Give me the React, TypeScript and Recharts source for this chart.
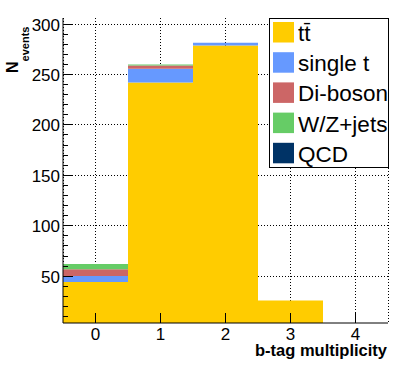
import React from 'react';
import { BarChart, Bar, XAxis, YAxis, CartesianGrid } from 'recharts';

// b-tag multiplicity bins
const categories = ['0', '1', '2', '3', '4'];

// stacked contributions, bottom to top
const ttbar = [44.3, 242, 278.7, 26, 0];
const singleTop = [6, 13.7, 2.7, 0, 0];
const diboson = [6.7, 3.3, 0, 0, 0];
const wzJets = [5, 1, 0, 0, 0];
const qcd = [0, 0, 0, 0, 0];

const seriesKeys = ['ttbar', 'singleTop', 'diboson', 'wzJets', 'qcd'];
const seriesNames = ['t\u0074\u0304', 'single t', 'Di-boson', 'W/Z+jets', 'QCD'];
const seriesColors = ['#ffcc00', '#6699ff', '#cc6666', '#66cc66', '#003366'];

const yMajorTicks = [50, 100, 150, 200, 250, 300];
const yMinorTicks = [10, 20, 30, 40, 50, 60, 70, 80, 90, 100, 110, 120, 130, 140, 150, 160, 170, 180, 190, 200, 210, 220, 230, 240, 250, 260, 270, 280, 290, 300];
const yDomain = [3.6, 306];

const data = categories.map((bin, i) => ({
  bin,
  ttbar: ttbar[i],
  singleTop: singleTop[i],
  diboson: diboson[i],
  wzJets: wzJets[i],
  qcd: qcd[i],
}));

const FONT = '"Liberation Sans", Arial, Helvetica, sans-serif';
const W = 396;
const H = 372;

const LeftTick = ({ x, y, payload }: any) => {
  const major = yMajorTicks.includes(payload.value);
  return (
    <g>
      <line x1={x} x2={x + (major ? 10 : 5)} y1={y} y2={y} stroke="#000" shapeRendering="crispEdges" />
      {major && (
        <text x={x - 3} y={y + 6.5} textAnchor="end" fontSize={17} fontFamily={FONT} fill="#000">
          {payload.value}
        </text>
      )}
    </g>
  );
};

const RightTick = ({ x, y, payload }: any) => {
  const major = yMajorTicks.includes(payload.value);
  return <line x1={x} x2={x - (major ? 10 : 5)} y1={y} y2={y} stroke="#000" shapeRendering="crispEdges" />;
};

const BottomTick = ({ x, y, payload }: any) => (
  <g>
    <line x1={x} x2={x} y1={y} y2={y - 10} stroke="#000" shapeRendering="crispEdges" />
    <text x={x} y={y + 17} textAnchor="middle" fontSize={17} fontFamily={FONT} fill="#000">
      {payload.value}
    </text>
  </g>
);

export default function App() {
  return (
    <div style={{ position: 'absolute', left: 0, top: 0, width: W, height: H, background: '#fff' }}>
      <BarChart
        width={W}
        height={H}
        data={data}
        barCategoryGap={0}
        barGap={0}
        margin={{ top: 18, right: 8, bottom: 19, left: 8 }}
      >
        <CartesianGrid stroke="#000" strokeDasharray="1 2" shapeRendering="crispEdges" horizontalValues={yMajorTicks} />
        <XAxis
          dataKey="bin"
          height={30}
          tickSize={0}
          tickMargin={0}
          tickLine={false}
          axisLine={{ stroke: '#000' }}
          tick={<BottomTick />}
          interval={0}
        />
        <XAxis xAxisId="top" dataKey="bin" orientation="top" height={0} tick={false} tickLine={false} axisLine={{ stroke: '#000' }} />
        <YAxis
          type="number"
          domain={yDomain}
          allowDataOverflow
          ticks={yMinorTicks}
          interval={0}
          width={55}
          tickSize={0}
          tickMargin={0}
          tickLine={false}
          axisLine={{ stroke: '#000' }}
          tick={<LeftTick />}
        />
        <YAxis
          yAxisId="right"
          orientation="right"
          type="number"
          domain={yDomain}
          allowDataOverflow
          ticks={yMinorTicks}
          interval={0}
          width={0}
          tickSize={0}
          tickMargin={0}
          tickLine={false}
          axisLine={{ stroke: '#000' }}
          tick={<RightTick />}
        />
        {seriesKeys.map((k, i) => (
          <Bar key={k} dataKey={k} name={seriesNames[i]} stackId="mc" fill={seriesColors[i]} isAnimationActive={false} />
        ))}
      </BarChart>
      <svg width={W} height={H} style={{ position: 'absolute', left: 0, top: 0, pointerEvents: 'none' }}>
        {/* legend box */}
        <rect x={269.5} y={18.5} width={119} height={149} fill="#fff" stroke="#000" shapeRendering="crispEdges" />
        {seriesNames.map((name, i) => (
          <g key={name}>
            <rect x={273} y={22 + i * 30.2} width={21} height={20.5} fill={seriesColors[i]} />
            <text x={298} y={41 + i * 30.2} fontSize={22.5} fontFamily={FONT} fill="#000">
              {name}
            </text>
          </g>
        ))}
        {/* axis titles */}
        <text x={387} y={356} textAnchor="end" fontSize={16.5} fontWeight="bold" fontFamily={FONT} fill="#000">
          b-tag multiplicity
        </text>
        <text transform="rotate(-90 18 73)" x={18} y={73} fontWeight="bold" fontFamily={FONT} fill="#000">
          <tspan fontSize={16}>N</tspan>
          <tspan fontSize={11} dy={11}>events</tspan>
        </text>
      </svg>
    </div>
  );
}
